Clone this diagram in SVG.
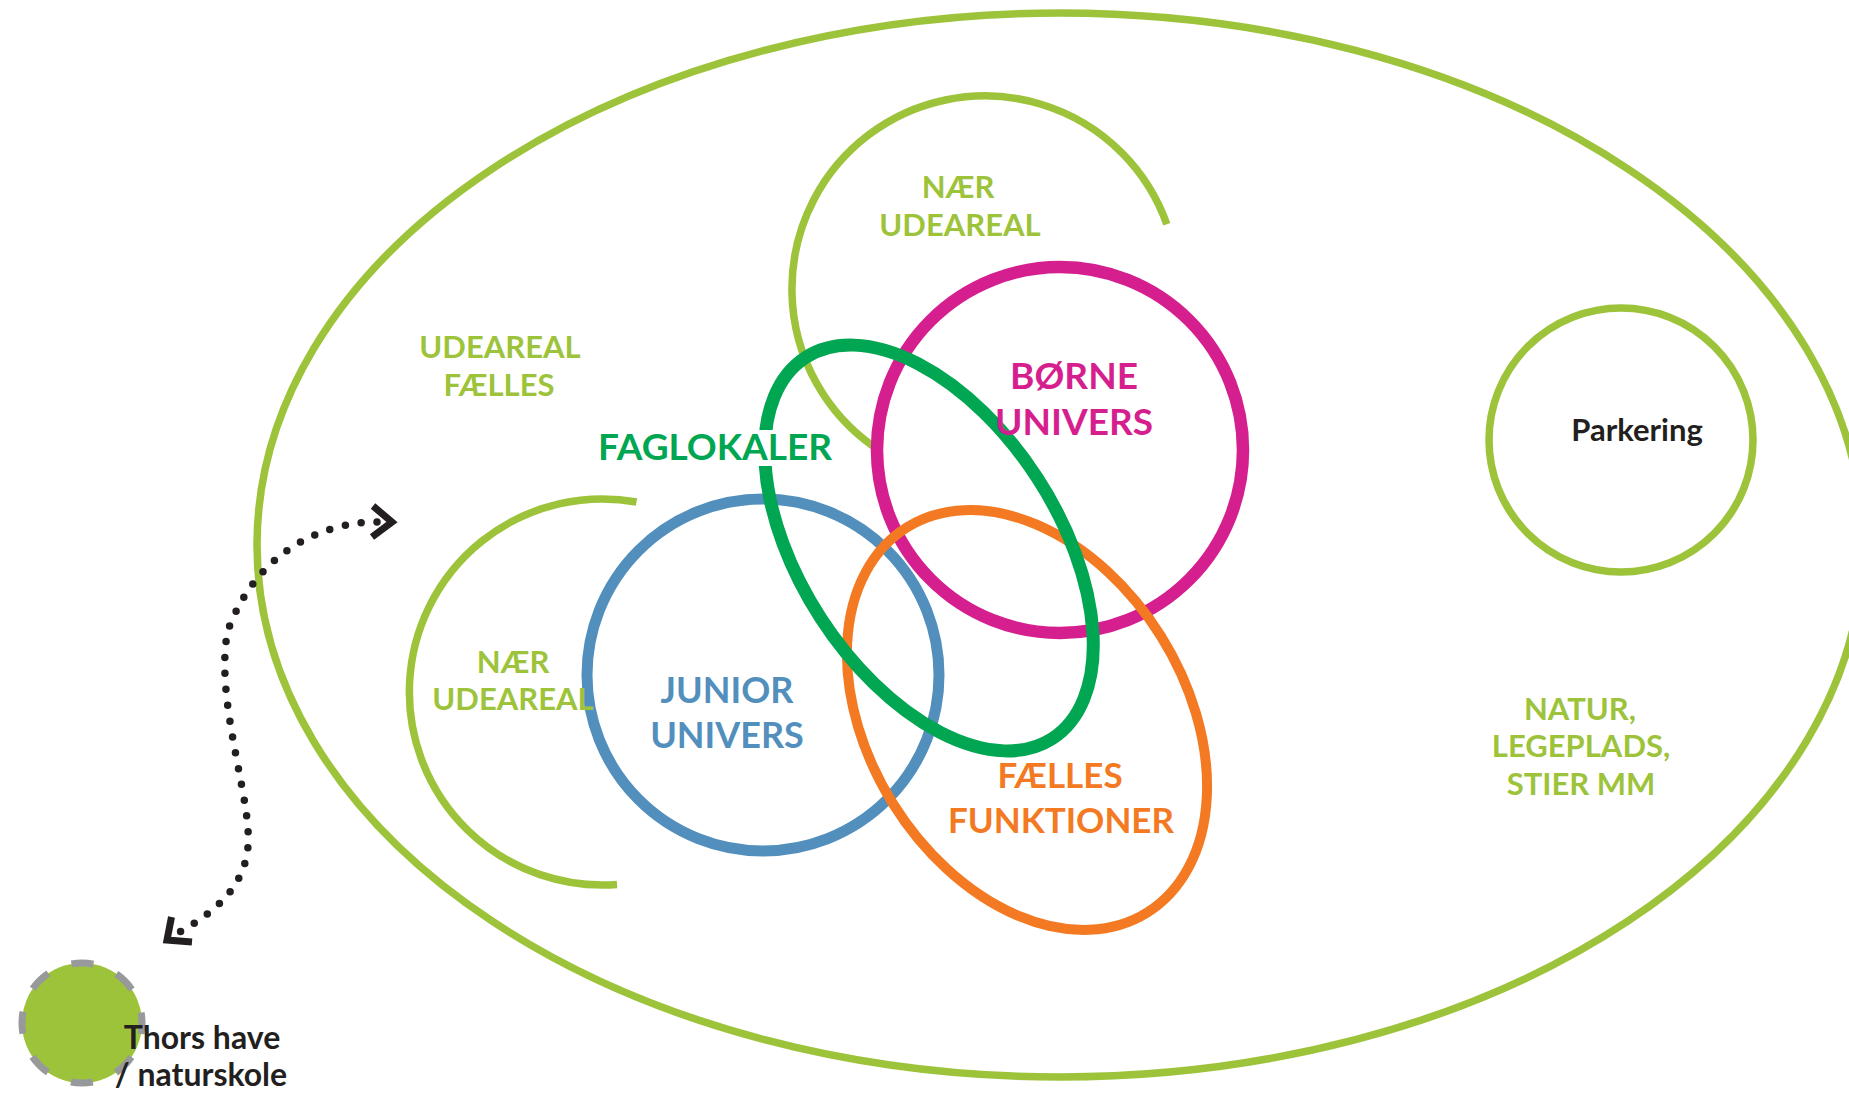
<svg xmlns="http://www.w3.org/2000/svg" width="1849" height="1093" viewBox="0 0 1849 1093">
<style>
  .lg { fill: none; stroke: #9dc33b; stroke-width: 7.5; }
  .t { font-family: Lato, "DejaVu Sans", sans-serif; font-weight: 700; text-anchor: middle; }
  .tlg { fill: #9dc33b; font-size: 31px; }
  .tdark { fill: #231f20; }
  .dots { fill: none; stroke: #231f20; stroke-width: 7.5; stroke-linecap: round; stroke-dasharray: 0 16; }
  .head { fill: none; stroke: #231f20; stroke-width: 7; stroke-linejoin: miter; stroke-linecap: butt; }
</style>
<rect width="1849" height="1093" fill="#ffffff"/>

<g id="omraade">
  <ellipse cx="1060" cy="545" rx="803" ry="532" class="lg"/>
</g>

<g id="parkering">
  <circle cx="1621" cy="440" r="132" class="lg"/>
  <text x="1637" y="441" class="t tdark" font-size="31">Parkering</text>
</g>

<g id="naer-udeareal-top">
  <path d="M1166.8 224.3 A193 193 0 1 0 873.5 446.5" class="lg"/>
</g>

<g id="naer-udeareal-left">
  <path d="M636.5 502 A193 193 0 1 0 617 884.4" class="lg"/>
</g>

<g id="junior-univers">
  <circle cx="763" cy="675" r="176" fill="none" stroke="#528fbd" stroke-width="11"/>
</g>

<g id="borne-univers">
  <circle cx="1060" cy="450" r="183" fill="none" stroke="#d61f8f" stroke-width="12.5"/>
</g>

<g id="faelles-funktioner">
  <ellipse cx="1027" cy="720" rx="227" ry="158" transform="rotate(58 1027 720)" fill="none" stroke="#f37a22" stroke-width="10"/>
</g>

<g id="faglokaler">
  <ellipse cx="929" cy="548" rx="227" ry="129" transform="rotate(57 929 548)" fill="none" stroke="#00a651" stroke-width="13"/>
  <rect x="600" y="430" width="232" height="36" fill="#ffffff"/>
  <text x="715" y="460" class="t" fill="#00a651" font-size="37">FAGLOKALER</text>
</g>

<g id="labels">
  <text class="t tlg" x="958" y="198">NÆR</text>
  <text class="t tlg" x="960" y="236">UDEAREAL</text>
  <text class="t tlg" x="500" y="358">UDEAREAL</text>
  <text class="t tlg" x="499" y="396">FÆLLES</text>
  <text class="t tlg" x="513" y="673">NÆR</text>
  <text class="t tlg" x="513" y="710">UDEAREAL</text>
  <text class="t" fill="#d61f8f" font-size="37" x="1074" y="389">BØRNE</text>
  <text class="t" fill="#d61f8f" font-size="37" x="1074" y="435">UNIVERS</text>
  <text class="t" fill="#528fbd" font-size="36" x="727" y="703">JUNIOR</text>
  <text class="t" fill="#528fbd" font-size="36" x="727" y="748">UNIVERS</text>
  <text class="t" fill="#f37a22" font-size="35" x="1060" y="788">FÆLLES</text>
  <text class="t" fill="#f37a22" font-size="35" x="1061" y="833">FUNKTIONER</text>
  <text class="t tlg" font-size="29" x="1580" y="720">NATUR,</text>
  <text class="t tlg" font-size="29" x="1581" y="757">LEGEPLADS,</text>
  <text class="t tlg" font-size="29" x="1581" y="795">STIER MM</text>
</g>

<g id="thors-have">
  <circle cx="82" cy="1023" r="60" fill="#9dc33b" stroke="#97999b" stroke-width="7" stroke-dasharray="22 25.12" stroke-dashoffset="11"/>
  <text class="t tdark" font-size="32" x="202" y="1049">Thors have</text>
  <text class="t tdark" font-size="32" x="201" y="1086">/ naturskole</text>
</g>

<g id="connectors">
  <path class="dots" d="M377 522 C330 522, 260 545, 228 630 C215 690, 245 780, 248 830 C252 880, 220 910, 176 934"/>
  <path class="head" d="M373 506 L392 522 L372 537"/>
  <path class="head" d="M171.5 917 L167 940 L192 942"/>
</g>
</svg>
